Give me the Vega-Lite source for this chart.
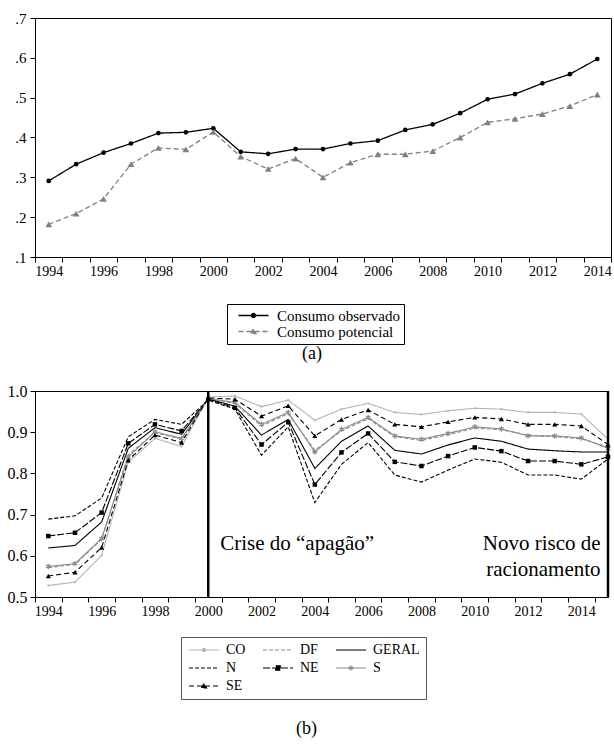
{
  "$schema": "https://vega.github.io/schema/vega-lite/v6.json",
  "background": "white",
  "padding": {"left": 6, "top": 10, "right": 2, "bottom": 5},
  "spacing": 19,
  "resolve": {"scale": {"color": "independent", "strokeDash": "independent"}, "legend": {"color": "independent", "strokeDash": "independent"}},
  "config": {
    "font": "Liberation Serif",
    "view": {"stroke": "black", "strokeWidth": 1},
    "axis": {"grid": false, "domainColor": "black", "tickColor": "black", "labelColor": "black", "labelFont": "Liberation Serif", "tickSize": 5, "labelPadding": 3, "title": null},
    "title": {"font": "Liberation Serif", "fontWeight": "normal", "color": "black"}
  },
  "datasets": {
    "consumo": [
      {"ano": 1994, "serie": "Consumo observado", "valor": 0.291},
      {"ano": 1995, "serie": "Consumo observado", "valor": 0.333},
      {"ano": 1996, "serie": "Consumo observado", "valor": 0.362},
      {"ano": 1997, "serie": "Consumo observado", "valor": 0.385},
      {"ano": 1998, "serie": "Consumo observado", "valor": 0.411},
      {"ano": 1999, "serie": "Consumo observado", "valor": 0.413},
      {"ano": 2000, "serie": "Consumo observado", "valor": 0.423},
      {"ano": 2001, "serie": "Consumo observado", "valor": 0.364},
      {"ano": 2002, "serie": "Consumo observado", "valor": 0.359},
      {"ano": 2003, "serie": "Consumo observado", "valor": 0.371},
      {"ano": 2004, "serie": "Consumo observado", "valor": 0.371},
      {"ano": 2005, "serie": "Consumo observado", "valor": 0.385},
      {"ano": 2006, "serie": "Consumo observado", "valor": 0.392},
      {"ano": 2007, "serie": "Consumo observado", "valor": 0.419},
      {"ano": 2008, "serie": "Consumo observado", "valor": 0.433},
      {"ano": 2009, "serie": "Consumo observado", "valor": 0.461},
      {"ano": 2010, "serie": "Consumo observado", "valor": 0.496},
      {"ano": 2011, "serie": "Consumo observado", "valor": 0.509},
      {"ano": 2012, "serie": "Consumo observado", "valor": 0.536},
      {"ano": 2013, "serie": "Consumo observado", "valor": 0.559},
      {"ano": 2014, "serie": "Consumo observado", "valor": 0.597},
      {"ano": 1994, "serie": "Consumo potencial", "valor": 0.182},
      {"ano": 1995, "serie": "Consumo potencial", "valor": 0.209},
      {"ano": 1996, "serie": "Consumo potencial", "valor": 0.246},
      {"ano": 1997, "serie": "Consumo potencial", "valor": 0.333},
      {"ano": 1998, "serie": "Consumo potencial", "valor": 0.374},
      {"ano": 1999, "serie": "Consumo potencial", "valor": 0.370},
      {"ano": 2000, "serie": "Consumo potencial", "valor": 0.414},
      {"ano": 2001, "serie": "Consumo potencial", "valor": 0.352},
      {"ano": 2002, "serie": "Consumo potencial", "valor": 0.321},
      {"ano": 2003, "serie": "Consumo potencial", "valor": 0.347},
      {"ano": 2004, "serie": "Consumo potencial", "valor": 0.300},
      {"ano": 2005, "serie": "Consumo potencial", "valor": 0.337},
      {"ano": 2006, "serie": "Consumo potencial", "valor": 0.358},
      {"ano": 2007, "serie": "Consumo potencial", "valor": 0.358},
      {"ano": 2008, "serie": "Consumo potencial", "valor": 0.366},
      {"ano": 2009, "serie": "Consumo potencial", "valor": 0.400},
      {"ano": 2010, "serie": "Consumo potencial", "valor": 0.438},
      {"ano": 2011, "serie": "Consumo potencial", "valor": 0.447},
      {"ano": 2012, "serie": "Consumo potencial", "valor": 0.459},
      {"ano": 2013, "serie": "Consumo potencial", "valor": 0.479},
      {"ano": 2014, "serie": "Consumo potencial", "valor": 0.508}
    ],
    "regioes": [
      {"ano": 1994, "serie": "CO", "valor": 0.528}, {"ano": 1994, "serie": "DF", "valor": 0.571}, {"ano": 1994, "serie": "GERAL", "valor": 0.619}, {"ano": 1994, "serie": "N", "valor": 0.689}, {"ano": 1994, "serie": "NE", "valor": 0.648}, {"ano": 1994, "serie": "S", "valor": 0.574}, {"ano": 1994, "serie": "SE", "valor": 0.551},
      {"ano": 1995, "serie": "CO", "valor": 0.536}, {"ano": 1995, "serie": "DF", "valor": 0.579}, {"ano": 1995, "serie": "GERAL", "valor": 0.625}, {"ano": 1995, "serie": "N", "valor": 0.697}, {"ano": 1995, "serie": "NE", "valor": 0.656}, {"ano": 1995, "serie": "S", "valor": 0.581}, {"ano": 1995, "serie": "SE", "valor": 0.560},
      {"ano": 1996, "serie": "CO", "valor": 0.601}, {"ano": 1996, "serie": "DF", "valor": 0.640}, {"ano": 1996, "serie": "GERAL", "valor": 0.682}, {"ano": 1996, "serie": "N", "valor": 0.740}, {"ano": 1996, "serie": "NE", "valor": 0.705}, {"ano": 1996, "serie": "S", "valor": 0.642}, {"ano": 1996, "serie": "SE", "valor": 0.620},
      {"ano": 1997, "serie": "CO", "valor": 0.827}, {"ano": 1997, "serie": "DF", "valor": 0.845}, {"ano": 1997, "serie": "GERAL", "valor": 0.861}, {"ano": 1997, "serie": "N", "valor": 0.889}, {"ano": 1997, "serie": "NE", "valor": 0.873}, {"ano": 1997, "serie": "S", "valor": 0.840}, {"ano": 1997, "serie": "SE", "valor": 0.832},
      {"ano": 1998, "serie": "CO", "valor": 0.885}, {"ano": 1998, "serie": "DF", "valor": 0.899}, {"ano": 1998, "serie": "GERAL", "valor": 0.911}, {"ano": 1998, "serie": "N", "valor": 0.931}, {"ano": 1998, "serie": "NE", "valor": 0.919}, {"ano": 1998, "serie": "S", "valor": 0.901}, {"ano": 1998, "serie": "SE", "valor": 0.893},
      {"ano": 1999, "serie": "CO", "valor": 0.865}, {"ano": 1999, "serie": "DF", "valor": 0.883}, {"ano": 1999, "serie": "GERAL", "valor": 0.895}, {"ano": 1999, "serie": "N", "valor": 0.919}, {"ano": 1999, "serie": "NE", "valor": 0.903}, {"ano": 1999, "serie": "S", "valor": 0.885}, {"ano": 1999, "serie": "SE", "valor": 0.875},
      {"ano": 2000, "serie": "CO", "valor": 0.985}, {"ano": 2000, "serie": "DF", "valor": 0.982}, {"ano": 2000, "serie": "GERAL", "valor": 0.981}, {"ano": 2000, "serie": "N", "valor": 0.978}, {"ano": 2000, "serie": "NE", "valor": 0.980}, {"ano": 2000, "serie": "S", "valor": 0.982}, {"ano": 2000, "serie": "SE", "valor": 0.983},
      {"ano": 2001, "serie": "CO", "valor": 0.988}, {"ano": 2001, "serie": "DF", "valor": 0.970}, {"ano": 2001, "serie": "GERAL", "valor": 0.963}, {"ano": 2001, "serie": "N", "valor": 0.956}, {"ano": 2001, "serie": "NE", "valor": 0.959}, {"ano": 2001, "serie": "S", "valor": 0.972}, {"ano": 2001, "serie": "SE", "valor": 0.980},
      {"ano": 2002, "serie": "CO", "valor": 0.962}, {"ano": 2002, "serie": "DF", "valor": 0.915}, {"ano": 2002, "serie": "GERAL", "valor": 0.893}, {"ano": 2002, "serie": "N", "valor": 0.844}, {"ano": 2002, "serie": "NE", "valor": 0.870}, {"ano": 2002, "serie": "S", "valor": 0.919}, {"ano": 2002, "serie": "SE", "valor": 0.939},
      {"ano": 2003, "serie": "CO", "valor": 0.978}, {"ano": 2003, "serie": "DF", "valor": 0.945}, {"ano": 2003, "serie": "GERAL", "valor": 0.931}, {"ano": 2003, "serie": "N", "valor": 0.913}, {"ano": 2003, "serie": "NE", "valor": 0.924}, {"ano": 2003, "serie": "S", "valor": 0.948}, {"ano": 2003, "serie": "SE", "valor": 0.964},
      {"ano": 2004, "serie": "CO", "valor": 0.929}, {"ano": 2004, "serie": "DF", "valor": 0.856}, {"ano": 2004, "serie": "GERAL", "valor": 0.812}, {"ano": 2004, "serie": "N", "valor": 0.729}, {"ano": 2004, "serie": "NE", "valor": 0.773}, {"ano": 2004, "serie": "S", "valor": 0.852}, {"ano": 2004, "serie": "SE", "valor": 0.891},
      {"ano": 2005, "serie": "CO", "valor": 0.956}, {"ano": 2005, "serie": "DF", "valor": 0.903}, {"ano": 2005, "serie": "GERAL", "valor": 0.878}, {"ano": 2005, "serie": "N", "valor": 0.822}, {"ano": 2005, "serie": "NE", "valor": 0.851}, {"ano": 2005, "serie": "S", "valor": 0.907}, {"ano": 2005, "serie": "SE", "valor": 0.931},
      {"ano": 2006, "serie": "CO", "valor": 0.970}, {"ano": 2006, "serie": "DF", "valor": 0.933}, {"ano": 2006, "serie": "GERAL", "valor": 0.915}, {"ano": 2006, "serie": "N", "valor": 0.875}, {"ano": 2006, "serie": "NE", "valor": 0.897}, {"ano": 2006, "serie": "S", "valor": 0.936}, {"ano": 2006, "serie": "SE", "valor": 0.954},
      {"ano": 2007, "serie": "CO", "valor": 0.948}, {"ano": 2007, "serie": "DF", "valor": 0.889}, {"ano": 2007, "serie": "GERAL", "valor": 0.856}, {"ano": 2007, "serie": "N", "valor": 0.796}, {"ano": 2007, "serie": "NE", "valor": 0.828}, {"ano": 2007, "serie": "S", "valor": 0.891}, {"ano": 2007, "serie": "SE", "valor": 0.919},
      {"ano": 2008, "serie": "CO", "valor": 0.943}, {"ano": 2008, "serie": "DF", "valor": 0.880}, {"ano": 2008, "serie": "GERAL", "valor": 0.847}, {"ano": 2008, "serie": "N", "valor": 0.779}, {"ano": 2008, "serie": "NE", "valor": 0.818}, {"ano": 2008, "serie": "S", "valor": 0.883}, {"ano": 2008, "serie": "SE", "valor": 0.913},
      {"ano": 2009, "serie": "CO", "valor": 0.952}, {"ano": 2009, "serie": "DF", "valor": 0.894}, {"ano": 2009, "serie": "GERAL", "valor": 0.869}, {"ano": 2009, "serie": "N", "valor": 0.808}, {"ano": 2009, "serie": "NE", "valor": 0.842}, {"ano": 2009, "serie": "S", "valor": 0.897}, {"ano": 2009, "serie": "SE", "valor": 0.925},
      {"ano": 2010, "serie": "CO", "valor": 0.958}, {"ano": 2010, "serie": "DF", "valor": 0.910}, {"ano": 2010, "serie": "GERAL", "valor": 0.886}, {"ano": 2010, "serie": "N", "valor": 0.835}, {"ano": 2010, "serie": "NE", "valor": 0.863}, {"ano": 2010, "serie": "S", "valor": 0.913}, {"ano": 2010, "serie": "SE", "valor": 0.936},
      {"ano": 2011, "serie": "CO", "valor": 0.956}, {"ano": 2011, "serie": "DF", "valor": 0.906}, {"ano": 2011, "serie": "GERAL", "valor": 0.878}, {"ano": 2011, "serie": "N", "valor": 0.827}, {"ano": 2011, "serie": "NE", "valor": 0.854}, {"ano": 2011, "serie": "S", "valor": 0.908}, {"ano": 2011, "serie": "SE", "valor": 0.932},
      {"ano": 2012, "serie": "CO", "valor": 0.948}, {"ano": 2012, "serie": "DF", "valor": 0.893}, {"ano": 2012, "serie": "GERAL", "valor": 0.859}, {"ano": 2012, "serie": "N", "valor": 0.796}, {"ano": 2012, "serie": "NE", "valor": 0.830}, {"ano": 2012, "serie": "S", "valor": 0.891}, {"ano": 2012, "serie": "SE", "valor": 0.919},
      {"ano": 2013, "serie": "CO", "valor": 0.948}, {"ano": 2013, "serie": "DF", "valor": 0.889}, {"ano": 2013, "serie": "GERAL", "valor": 0.855}, {"ano": 2013, "serie": "N", "valor": 0.796}, {"ano": 2013, "serie": "NE", "valor": 0.830}, {"ano": 2013, "serie": "S", "valor": 0.891}, {"ano": 2013, "serie": "SE", "valor": 0.919},
      {"ano": 2014, "serie": "CO", "valor": 0.944}, {"ano": 2014, "serie": "DF", "valor": 0.884}, {"ano": 2014, "serie": "GERAL", "valor": 0.852}, {"ano": 2014, "serie": "N", "valor": 0.786}, {"ano": 2014, "serie": "NE", "valor": 0.822}, {"ano": 2014, "serie": "S", "valor": 0.886}, {"ano": 2014, "serie": "SE", "valor": 0.915},
      {"ano": 2015, "serie": "CO", "valor": 0.883}, {"ano": 2015, "serie": "DF", "valor": 0.864}, {"ano": 2015, "serie": "GERAL", "valor": 0.852}, {"ano": 2015, "serie": "N", "valor": 0.835}, {"ano": 2015, "serie": "NE", "valor": 0.840}, {"ano": 2015, "serie": "S", "valor": 0.861}, {"ano": 2015, "serie": "SE", "valor": 0.870}
    ],
    "marcos": [{"ano": 2000}, {"ano": 2015}],
    "notaEsq": [{"ano": 2000.45, "valor": 0.613, "texto": "Crise do “apagão”"}],
    "notaDir": [{"ano": 2014.72, "valor": 0.615, "texto": "Novo risco de"}, {"ano": 2014.72, "valor": 0.552, "texto": "racionamento"}]
  },
  "vconcat": [
    {
      "width": 576,
      "height": 239,
      "title": {"text": "(a)", "orient": "bottom", "fontSize": 18, "offset": 0, "dx": -11},
      "resolve": {"axis": {"x": "independent"}},
      "layer": [
        {
          "data": {"name": "consumo"},
          "mark": {"type": "line", "strokeWidth": 1.3},
          "encoding": {
            "x": {"field": "ano", "type": "quantitative", "scale": {"domain": [1993.5, 2014.5], "nice": false, "zero": false},
              "axis": {"orient": "bottom", "values": [1993.5,1994.5,1995.5,1996.5,1997.5,1998.5,1999.5,2000.5,2001.5,2002.5,2003.5,2004.5,2005.5,2006.5,2007.5,2008.5,2009.5,2010.5,2011.5,2012.5,2013.5,2014.5], "tickCount": 100, "labels": false}},
            "y": {"field": "valor", "type": "quantitative", "scale": {"domain": [0.1, 0.7], "nice": false, "zero": false},
              "axis": {"values": [0.1, 0.2, 0.3, 0.4, 0.5, 0.6, 0.7], "tickCount": 50, "labelOverlap": false, "labelExpr": "substring(format(datum.value, '.1f'), 1)", "labelFontSize": 15, "labelPadding": 4}},
            "color": {"field": "serie", "type": "nominal", "scale": {"domain": ["Consumo observado", "Consumo potencial"], "range": ["#000000", "#808080"]},
              "legend": {"orient": "none", "legendX": 192, "legendY": 286, "title": null, "direction": "vertical",
                "strokeColor": "black", "fillColor": "white", "padding": 4, "labelFontSize": 15, "labelFont": "Liberation Serif", "labelColor": "black",
                "symbolSize": 100, "labelOffset": 31, "rowPadding": 0, "symbolStrokeWidth": 1.3,
                "encode": {"symbols": {"update": {
                  "shape": {"signal": "datum.value == 'Consumo observado' ? 'M0,0H6M2.6,0A0.4,0.4 0 1,0 3.4,0A0.4,0.4 0 1,0 2.6,0Z' : 'M0,0H6M2.5,0.4L3,-0.5L3.5,0.4Z'"},
                  "stroke": {"signal": "datum.value == 'Consumo observado' ? 'black' : '#808080'"},
                  "fill": {"signal": "datum.value == 'Consumo observado' ? 'black' : '#808080'"}
                }}}}},
            "strokeDash": {"field": "serie", "type": "nominal", "scale": {"domain": ["Consumo observado", "Consumo potencial"], "range": [[1, 0], [5, 3]]}}
          }
        },
        {
          "data": {"name": "consumo"},
          "transform": [{"filter": {"field": "serie", "equal": "Consumo observado"}}],
          "mark": {"type": "point", "shape": "circle", "filled": true, "opacity": 1, "color": "black", "size": 22},
          "encoding": {
            "x": {"field": "ano", "type": "quantitative",
              "axis": {"orient": "bottom", "values": [1994,1996,1998,2000,2002,2004,2006,2008,2010,2012,2014], "tickCount": 100, "ticks": false, "domain": false, "format": "d", "labelFontSize": 14, "labelPadding": 7, "labelOverlap": false, "labelFlush": false}},
            "y": {"field": "valor", "type": "quantitative"}
          }
        },
        {
          "data": {"name": "consumo"},
          "transform": [{"filter": {"field": "serie", "equal": "Consumo potencial"}}],
          "mark": {"type": "point", "shape": "triangle-up", "filled": true, "opacity": 1, "color": "#808080", "size": 45},
          "encoding": {"x": {"field": "ano", "type": "quantitative", "axis": null}, "y": {"field": "valor", "type": "quantitative"}}
        }
      ]
    },
    {
      "width": 573,
      "height": 206,
      "title": {"text": "(b)", "orient": "bottom", "fontSize": 18, "offset": 20, "dx": -15},
      "resolve": {"axis": {"x": "independent"}},
      "layer": [
        {
          "data": {"name": "regioes"},
          "mark": {"type": "line", "strokeWidth": 1.1},
          "encoding": {
            "x": {"field": "ano", "type": "quantitative", "scale": {"domain": [1993.5, 2015], "nice": false, "zero": false},
              "axis": {"orient": "bottom", "values": [1993.5,1994.5,1995.5,1996.5,1997.5,1998.5,1999.5,2000.5,2001.5,2002.5,2003.5,2004.5,2005.5,2006.5,2007.5,2008.5,2009.5,2010.5,2011.5,2012.5,2013.5,2014.5], "tickCount": 100, "labels": false}},
            "y": {"field": "valor", "type": "quantitative", "scale": {"domain": [0.5, 1.0], "nice": false, "zero": false},
              "axis": {"values": [0.5, 0.6, 0.7, 0.8, 0.9, 1.0], "tickCount": 50, "labelOverlap": false, "format": ".1f", "labelFontSize": 16, "labelPadding": 3}},
            "color": {"field": "serie", "type": "nominal", "scale": {"domain": ["CO", "DF", "GERAL", "N", "NE", "S", "SE"], "range": ["#b4b4b4", "#8a8a8a", "#000000", "#000000", "#000000", "#8a8a8a", "#000000"]},
              "legend": {"orient": "none", "legendX": 146, "legendY": 246, "title": null, "columns": 3, "direction": "horizontal",
                "strokeColor": "#555555", "fillColor": "white", "padding": 6, "labelFontSize": 14, "labelFont": "Liberation Serif", "labelColor": "black",
                "symbolSize": 100, "labelOffset": 25, "rowPadding": 4, "columnPadding": 14, "symbolStrokeWidth": 1.2,
                "encode": {"symbols": {"update": {
                  "shape": {"signal": "datum.value == 'CO' ? 'M-1,0H5M1.7,0A0.3,0.3 0 1,0 2.3,0A0.3,0.3 0 1,0 1.7,0Z' : datum.value == 'NE' ? 'M-1,0H5M1.55,-0.45H2.45V0.45H1.55Z' : datum.value == 'SE' ? 'M-1,0H5M1.5,0.4L2,-0.5L2.5,0.4Z' : datum.value == 'S' ? 'M-1,0H5M2,-0.5V0.5M1.57,-0.25L2.43,0.25M1.57,0.25L2.43,-0.25' : 'M-1,0H5'"},
                  "stroke": {"signal": "datum.value == 'CO' ? '#b4b4b4' : (datum.value == 'DF' || datum.value == 'S') ? '#8a8a8a' : 'black'"},
                  "fill": {"signal": "datum.value == 'CO' ? '#b4b4b4' : (datum.value == 'DF' || datum.value == 'S') ? '#8a8a8a' : 'black'"}
                }}}}},
            "strokeDash": {"field": "serie", "type": "nominal", "scale": {"domain": ["CO", "DF", "GERAL", "N", "NE", "S", "SE"], "range": [[1, 0], [4, 2], [1, 0], [4, 2], [7, 2], [1, 0], [5, 3]]}}
          }
        },
        {
          "data": {"name": "regioes"},
          "transform": [{"filter": {"field": "serie", "equal": "CO"}}],
          "mark": {"type": "point", "shape": "circle", "filled": true, "opacity": 1, "color": "#b4b4b4", "size": 5},
          "encoding": {
            "x": {"field": "ano", "type": "quantitative",
              "axis": {"orient": "bottom", "values": [1994,1996,1998,2000,2002,2004,2006,2008,2010,2012,2014], "tickCount": 100, "ticks": false, "domain": false, "format": "d", "labelFontSize": 14, "labelPadding": 7, "labelOverlap": false, "labelFlush": false}},
            "y": {"field": "valor", "type": "quantitative"}
          }
        },
        {
          "data": {"name": "regioes"},
          "transform": [{"filter": {"field": "serie", "equal": "NE"}}],
          "mark": {"type": "point", "shape": "square", "filled": true, "opacity": 1, "color": "black", "size": 20},
          "encoding": {"x": {"field": "ano", "type": "quantitative", "axis": null}, "y": {"field": "valor", "type": "quantitative"}}
        },
        {
          "data": {"name": "regioes"},
          "transform": [{"filter": {"field": "serie", "equal": "S"}}],
          "mark": {"type": "point", "shape": "M0,-1V1M-0.87,-0.5L0.87,0.5M-0.87,0.5L0.87,-0.5", "filled": false, "opacity": 1, "color": "#8a8a8a", "strokeWidth": 1.2, "size": 30},
          "encoding": {"x": {"field": "ano", "type": "quantitative", "axis": null}, "y": {"field": "valor", "type": "quantitative"}}
        },
        {
          "data": {"name": "regioes"},
          "transform": [{"filter": {"field": "serie", "equal": "SE"}}],
          "mark": {"type": "point", "shape": "triangle-up", "filled": true, "opacity": 1, "color": "black", "size": 26},
          "encoding": {"x": {"field": "ano", "type": "quantitative", "axis": null}, "y": {"field": "valor", "type": "quantitative"}}
        },
        {
          "data": {"name": "marcos"},
          "mark": {"type": "rule", "color": "black", "strokeWidth": 2.5},
          "encoding": {"x": {"field": "ano", "type": "quantitative", "axis": null}}
        },
        {
          "data": {"name": "notaEsq"},
          "mark": {"type": "text", "align": "left", "baseline": "alphabetic", "fontSize": 21, "font": "Liberation Serif", "color": "black"},
          "encoding": {"x": {"field": "ano", "type": "quantitative", "axis": null}, "y": {"field": "valor", "type": "quantitative"}, "text": {"field": "texto"}}
        },
        {
          "data": {"name": "notaDir"},
          "mark": {"type": "text", "align": "right", "baseline": "alphabetic", "fontSize": 21, "font": "Liberation Serif", "color": "black"},
          "encoding": {"x": {"field": "ano", "type": "quantitative", "axis": null}, "y": {"field": "valor", "type": "quantitative"}, "text": {"field": "texto"}}
        }
      ]
    }
  ]
}
